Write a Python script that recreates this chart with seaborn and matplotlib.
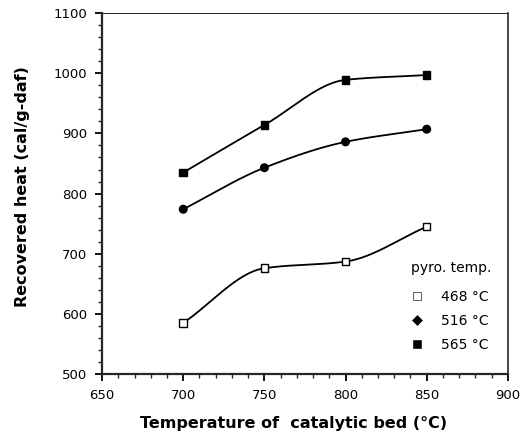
import numpy as np
import pandas as pd
import matplotlib
matplotlib.use("Agg")
import matplotlib.pyplot as plt
import seaborn as sns
from matplotlib.ticker import MultipleLocator

# data
bed_temp = [700, 750, 800, 850]
heat_468 = [585, 676, 687, 745]
heat_516 = [774, 843, 886, 907]
heat_565 = [835, 914, 989, 997]
series_labels = ["468 °C", "516 °C", "565 °C"]


def smooth_curve(x, y, n=200):
    """Monotone cubic (PCHIP) curve through the points."""
    x = np.asarray(x, float)
    y = np.asarray(y, float)
    h = np.diff(x)
    d = np.diff(y) / h
    m = np.zeros_like(y)
    for i in range(1, len(x) - 1):
        if d[i - 1] * d[i] > 0:
            w1 = 2 * h[i] + h[i - 1]
            w2 = h[i] + 2 * h[i - 1]
            m[i] = (w1 + w2) / (w1 / d[i - 1] + w2 / d[i])
    m[0] = d[0]
    m[-1] = d[-1]
    xs = np.linspace(x[0], x[-1], n)
    idx = np.clip(np.searchsorted(x, xs) - 1, 0, len(x) - 2)
    t = (xs - x[idx]) / h[idx]
    h00 = 2 * t**3 - 3 * t**2 + 1
    h10 = t**3 - 2 * t**2 + t
    h01 = -2 * t**3 + 3 * t**2
    h11 = t**3 - t**2
    ys = (h00 * y[idx] + h10 * h[idx] * m[idx]
          + h01 * y[idx + 1] + h11 * h[idx] * m[idx + 1])
    return xs, ys


sns.set_theme(style="ticks")
plt.rcParams["font.family"] = ["DejaVu Sans"]
plt.rcParams["text.color"] = "black"
plt.rcParams["axes.labelcolor"] = "black"

df = pd.DataFrame({
    "bed": bed_temp * 3,
    "heat": heat_468 + heat_516 + heat_565,
    "series": [s for s in series_labels for _ in bed_temp],
})

fig = plt.figure(figsize=(5.29, 4.36), dpi=100)
ax = fig.add_axes([0.193, 0.142, 0.767, 0.828])

for vals in (heat_468, heat_516, heat_565):
    xs, ys = smooth_curve(bed_temp, vals)
    ax.plot(xs, ys, color="black", linewidth=1.3, zorder=1)

sns.scatterplot(
    data=df, x="bed", y="heat", style="series",
    markers={"468 °C": "s", "516 °C": "o", "565 °C": "s"},
    hue="series",
    palette={"468 °C": "black", "516 °C": "black", "565 °C": "black"},
    s=30, ax=ax, zorder=3, legend=True,
)
# open square for the lowest series
pts = ax.collections[0]
fc = ["white" if s == "468 °C" else "black" for s in df["series"]]
pts.set_facecolors(fc)
pts.set_edgecolors("black")
pts.set_linewidths(1.0)

ax.set_xlim(650, 900)
ax.set_ylim(500, 1100)
ax.xaxis.set_major_locator(MultipleLocator(50))
ax.xaxis.set_minor_locator(MultipleLocator(10))
ax.yaxis.set_major_locator(MultipleLocator(100))
ax.yaxis.set_minor_locator(MultipleLocator(20))
ax.tick_params(which="major", direction="out", length=5, width=1.3,
               labelsize=9.5, pad=6, colors="black")
ax.tick_params(which="minor", direction="out", length=3, width=1.0)

for side in ("left", "bottom"):
    ax.spines[side].set_linewidth(1.6)
ax.spines["right"].set_linewidth(1.2)
ax.spines["top"].set_linewidth(0.7)

ax.set_xlabel("Temperature of  catalytic bed (°C)", fontsize=11.5,
              fontweight="bold")
ax.set_ylabel("Recovered heat (cal/g-daf)", fontsize=11.5,
              fontweight="bold")
ax.xaxis.set_label_coords(0.473, -0.115)
ax.yaxis.set_label_coords(-0.178, 0.52)

handles, labels = ax.get_legend_handles_labels()
for h, lab in zip(handles, labels):
    if lab == "468 °C":
        h.set_markerfacecolor("white")
    h.set_markeredgecolor("black")
    if lab == "516 °C":
        h.set_marker("D")
        h.set_markersize(5)
leg = ax.legend(handles, labels, title="pyro. temp.", frameon=False,
                loc="lower right", bbox_to_anchor=(0.972, 0.047),
                fontsize=10, title_fontsize=10, handlelength=1.0,
                handletextpad=1.2, labelspacing=0.7, borderaxespad=0)
leg._legend_box.align = "left"
leg._legend_box.sep = 11

fig.savefig("out.png", dpi=100, facecolor="white")
plt.close(fig)
